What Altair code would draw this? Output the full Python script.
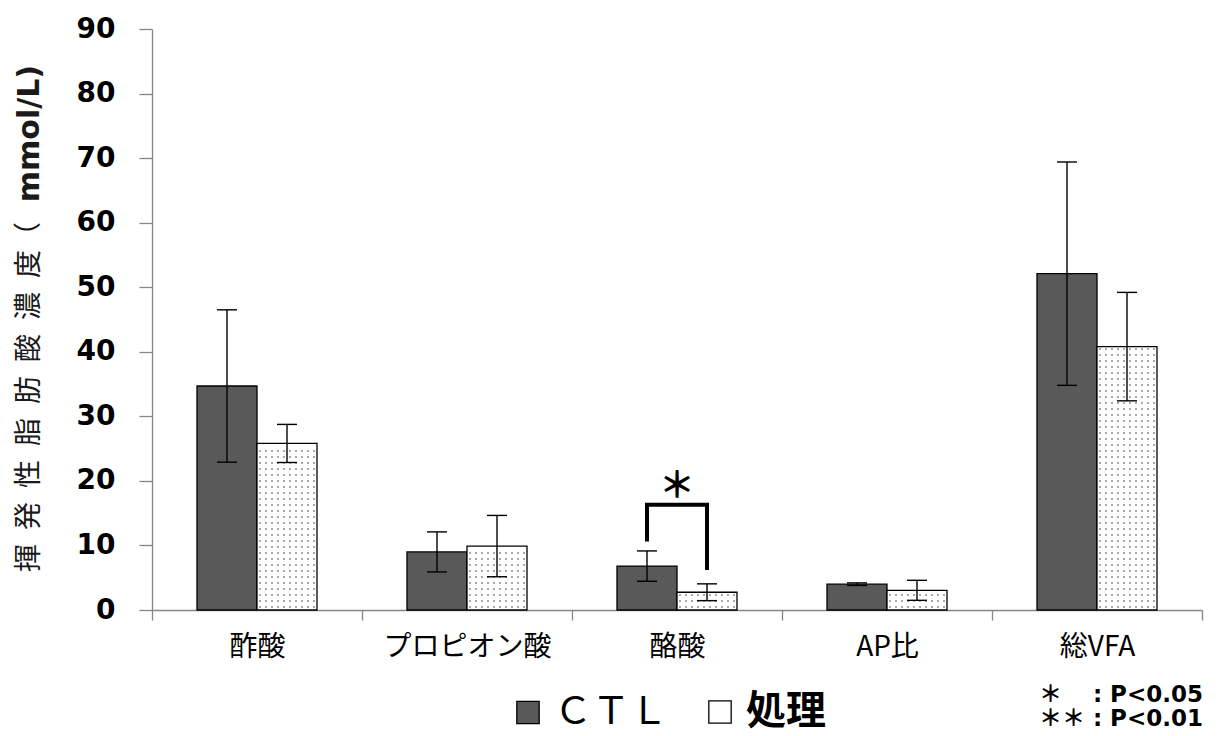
import json

import altair as alt
import pandas as pd

# --- values -------------------------------------------------------------
categories = ["酢酸", "プロピオン酸", "酪酸", "AP比", "総VFA"]
groups = ["CTL", "処理"]
ctl_mean = [34.7, 9.0, 6.8, 4.0, 52.1]
ctl_sd = [11.8, 3.1, 2.35, 0.2, 17.3]
trt_mean = [25.8, 9.9, 2.75, 3.05, 40.8]
trt_sd = [2.95, 4.75, 1.3, 1.55, 8.4]

# significance bracket over 酪酸: left foot, top, right foot (mmol/L)
bracket_cat = "酪酸"
bracket_levels = [10.6, 16.3, 6.2]
sig_mark = "＊"
sig_level = 19.0

y_ticks = [0, 10, 20, 30, 40, 50, 60, 70, 80, 90]
note_lines = ["＊　 : P<0.05", "＊＊ : P<0.01"]
title_jp = "揮\u2002発\u2002性\u2002脂\u2002肪\u2002酸\u2002濃\u2002度（"
title_unit = "mmol/L)"

# --- layout constants --------------------------------------------------
PLOT_W, PLOT_H = 1050, 581
N = len(categories)
STEP = PLOT_W / N                 # px per category
BW = 60 / STEP                    # bar width in category units
CAP = 10 / STEP                   # half width of error-bar caps
DY = 6 / (PLOT_H / 90)            # dot pitch (vertical) in mmol/L
AXIS_GRAY = "#868686"

rows = []
for i, c in enumerate(categories):
    rows.append({"cat": c, "idx": i, "grp": groups[0], "mean": ctl_mean[i], "sd": ctl_sd[i]})
    rows.append({"cat": c, "idx": i, "grp": groups[1], "mean": trt_mean[i], "sd": trt_sd[i]})
df = pd.DataFrame(rows)

xscale = alt.Scale(domain=[0, N], nice=False, zero=False)
yscale = alt.Scale(domain=[0, 90], nice=False)

label_expr = f"{json.dumps(categories, ensure_ascii=False)}[datum.value] || ''"
xaxis = alt.Axis(
    values=list(range(N + 1)), title=None, grid=False,
    domainColor=AXIS_GRAY, domainWidth=1.3, tickColor=AXIS_GRAY, tickWidth=1.3, tickSize=10,
    labelExpr=label_expr, labelOffset=STEP / 2, labelFlush=False, labelOverlap=False,
    labelPadding=13, labelFont="Noto Sans CJK JP", labelFontSize=28, labelColor="black",
)
yaxis = alt.Axis(
    values=y_ticks, title=None, grid=False,
    domainColor=AXIS_GRAY, domainWidth=1.3, tickColor=AXIS_GRAY, tickWidth=1.3, tickSize=13,
    labelFont="DejaVu Sans", labelFontWeight="bold", labelFontSize=28, labelColor="black",
    labelPadding=24,
)

legend = alt.Legend(
    title=None, orient="none", direction="horizontal", legendX=357, legendY=664,
    symbolType="square", symbolSize=500, symbolStrokeColor="black", symbolStrokeWidth=1.3,
    symbolOpacity=1, labelFont="Noto Sans CJK JP", labelColor="black",
    labelOffset=7, columnPadding=32, padding=0, labelLimit=0,
    labelExpr="datum.value === 'CTL' ? 'ＣＴＬ' : datum.label",
    labelFontSize=alt.ExprRef(expr="datum.value === '処理' ? 40 : 38"),
    labelFontWeight=alt.ExprRef(expr="datum.value === '処理' ? 'bold' : 'normal'"),
)

base = alt.Chart(df).transform_calculate(
    x0=f"datum.idx + 0.5 - (datum.grp === 'CTL' ? {BW} : 0)",
).transform_calculate(
    x1=f"datum.x0 + {BW}",
    xc=f"datum.x0 + {BW / 2}",
    lo="datum.mean - datum.sd",
    hi="datum.mean + datum.sd",
)

bars = base.mark_rect(stroke="black", strokeWidth=1.3).encode(
    x=alt.X("x0:Q", scale=xscale, axis=xaxis),
    x2="x1:Q",
    y=alt.Y("mean:Q", scale=yscale, axis=yaxis),
    y2=alt.datum(0),
    fill=alt.Fill("grp:N", scale=alt.Scale(domain=groups, range=["#595959", "#ffffff"]),
                  legend=legend),
)

# stippled fill of the 処理 bars: a dot grid clipped to each bar's height
dots = base.transform_filter("datum.grp === '処理'").transform_calculate(
    cols="sequence(0, 10)",
    rws=f"sequence(0, ceil(datum.mean / {DY}))",
).transform_flatten(["cols"]).transform_flatten(["rws"]).transform_calculate(
    dx=f"datum.x0 + (datum.cols + 0.5) * {BW / 10}",
    dy=f"(datum.rws + 0.5) * {DY}",
).transform_filter(f"datum.dy < datum.mean - {DY * 0.3}").mark_square(
    size=3, color="#7a7a7a", opacity=1
).encode(x="dx:Q", y="dy:Q")

err = base.mark_rule(color="black", strokeWidth=1.4).encode(
    x="xc:Q", y="lo:Q", y2="hi:Q"
)
caps = base.transform_fold(["lo", "hi"], as_=["end", "yv"]).transform_calculate(
    c0=f"datum.xc - {CAP}", c1=f"datum.xc + {CAP}"
).mark_rule(color="black", strokeWidth=1.4).encode(x="c0:Q", x2="c1:Q", y="yv:Q")

b_idx = categories.index(bracket_cat)
bdf = pd.DataFrame({
    "k": [0, 1, 2, 3],
    "side": [-1, -1, 1, 1],
    "lvl": [bracket_levels[0], bracket_levels[1], bracket_levels[1], bracket_levels[2]],
})
bracket = alt.Chart(bdf).transform_calculate(
    bx=f"{b_idx} + 0.5 + datum.side * {BW / 2}"
).mark_line(color="black", strokeWidth=4, strokeJoin="miter", strokeCap="butt").encode(
    x="bx:Q", y="lvl:Q", order="k:O"
)
star = alt.Chart(pd.DataFrame({"t": [sig_mark], "lvl": [sig_level]})).transform_calculate(
    bx=f"{b_idx} + 0.5"
).mark_text(font="Noto Sans CJK JP", fontSize=36, fontWeight="bold", color="black",
            baseline="middle").encode(x="bx:Q", y="lvl:Q", text="t:N")

# y-axis title: Japanese part in regular weight, unit in bold
ytitle_jp = alt.Chart(pd.DataFrame({"t": [title_jp]})).mark_text(
    angle=270, align="left", baseline="middle", font="Noto Sans CJK JP", fontSize=28,
    color="#1a1a1a"
).encode(x=alt.value(-122), y=alt.value(543), text="t:N")
ytitle_unit = alt.Chart(pd.DataFrame({"t": [title_unit]})).mark_text(
    angle=270, align="right", baseline="middle", font="DejaVu Sans", fontSize=30,
    fontWeight="bold", color="#1a1a1a"
).encode(x=alt.value(-122), y=alt.value(36), text="t:N")

# significance key, bottom right
note_df = pd.DataFrame({"t": note_lines, "k": [0, 1]})
notes = alt.Chart(note_df).transform_calculate(
    py="666 + datum.k * 24"
).mark_text(
    align="right", baseline="middle", font="DejaVu Sans, Noto Sans CJK JP", fontSize=23,
    fontWeight="bold", color="black"
).encode(
    x=alt.value(1051),
    y=alt.Y("py:Q", scale=None),
    text="t:N",
)

chart = alt.layer(
    bars, dots, err, caps, bracket, star, ytitle_jp, ytitle_unit, notes
).properties(
    width=PLOT_W, height=PLOT_H,
    autosize=alt.AutoSizeParams(type="none"),
    padding={"left": 152, "top": 29, "right": 15, "bottom": 126},
).configure_view(stroke=None)

chart.save("out.html", embed_options={"renderer": "svg", "actions": False})
